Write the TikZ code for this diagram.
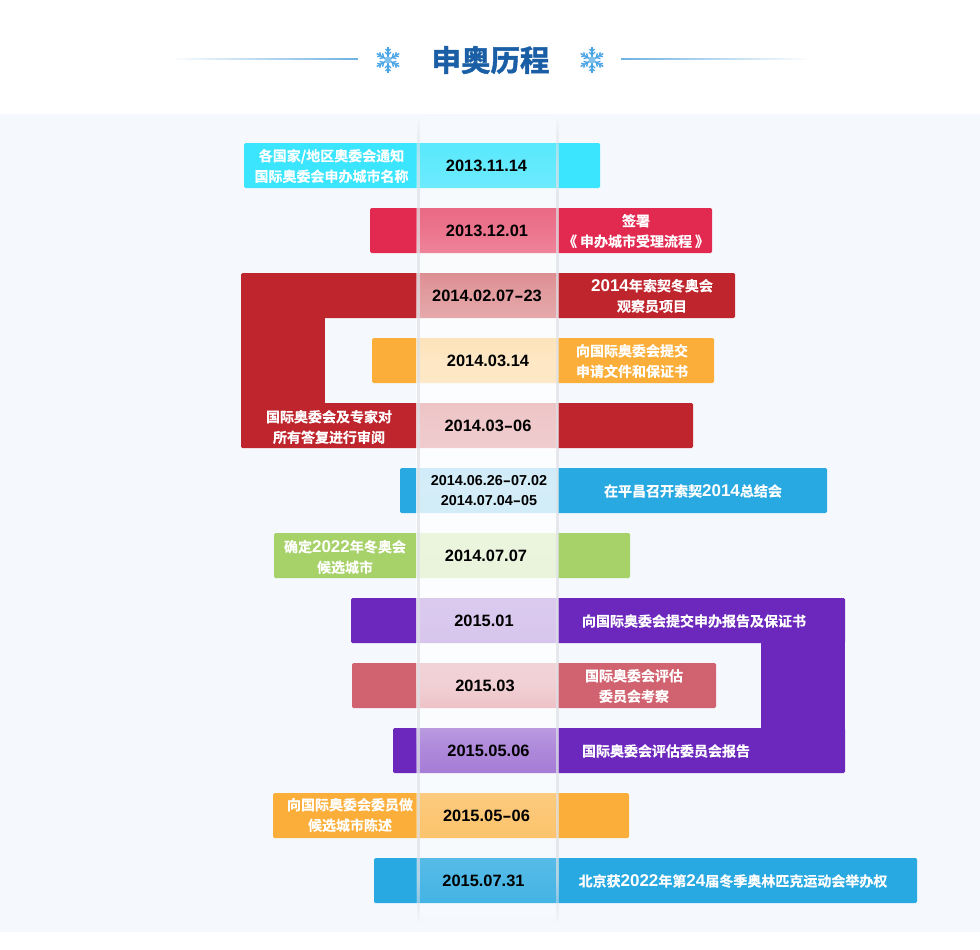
\documentclass[tikz,border=0pt]{standalone}
\usepackage{fontspec}
\usepackage{graphicx}
\usetikzlibrary{fadings,calc}
\setmainfont{Liberation Sans}
\newfontfamily\cjkbold[FakeBold=0.4]{Noto Sans CJK SC Bold}
\newfontfamily\titlefont[FakeBold=1.5]{Noto Sans CJK SC Bold}
\newfontfamily\datefont{Liberation Sans}
\definecolor{pagebg}{HTML}{F5F9FD}
\definecolor{titleblue}{HTML}{1A5EA6}
\definecolor{flakeblue}{HTML}{4AA5E5}
\definecolor{linblue}{HTML}{6EB2E2}
\definecolor{ccyan}{HTML}{3BE5FD}
\definecolor{crose}{HTML}{E22A50}
\definecolor{cred}{HTML}{BF252C}
\definecolor{corange}{HTML}{FBAF3A}
\definecolor{cblue}{HTML}{29A9E1}
\definecolor{cgreen}{HTML}{A6D269}
\definecolor{cpurple}{HTML}{6C27BD}
\definecolor{cpink}{HTML}{D0636F}
\definecolor{stripgrey}{HTML}{DDE0E5}
\tikzset{
  rowbar/.style={inner sep=0pt,outer sep=0pt,rounded corners=1.5pt,minimum height=45pt},
  datelabel/.style={inner sep=0pt,text=black,font=\datefont\bfseries\fontsize{16.4}{20}\selectfont,align=center},
  smalldate/.style={inner sep=0pt,text=black,font=\datefont\bfseries\fontsize{14.4}{20}\selectfont,align=center},
  evlabel/.style={inner sep=0pt,text=white,font=\cjkbold\fontsize{14}{20.5}\selectfont,align=center},
  titlelabel/.style={inner sep=0pt,text=titleblue,font=\titlefont\fontsize{29.5}{30}\selectfont}
}
\pgfdeclareverticalshading{bandshade}{100bp}{
  color(0bp)=(pgftransparent!92);
  color(25bp)=(pgftransparent!92);
  color(27.6bp)=(pgftransparent!83);
  color(31.65bp)=(pgftransparent!70);
  color(35.7bp)=(pgftransparent!55);
  color(39.75bp)=(pgftransparent!30);
  color(43.8bp)=(pgftransparent!25);
  color(52bp)=(pgftransparent!20);
  color(56bp)=(pgftransparent!25);
  color(60bp)=(pgftransparent!30);
  color(64bp)=(pgftransparent!45);
  color(68bp)=(pgftransparent!65);
  color(72.1bp)=(pgftransparent!80);
  color(75bp)=(pgftransparent!90);
  color(100bp)=(pgftransparent!90)}
\pgfdeclareverticalshading{stripshade}{100bp}{
  color(0bp)=(pgftransparent!100);
  color(25bp)=(pgftransparent!100);
  color(26bp)=(pgftransparent!60);
  color(28bp)=(pgftransparent!30);
  color(72bp)=(pgftransparent!30);
  color(74bp)=(pgftransparent!60);
  color(75bp)=(pgftransparent!100);
  color(100bp)=(pgftransparent!100)}
\pgfdeclarefading{bandfade}{\pgfuseshading{bandshade}}
\pgfdeclarefading{stripfade}{\pgfuseshading{stripshade}}
\tikzfading[name=linefadeL,left color=transparent!100,right color=transparent!0]
\tikzfading[name=linefadeR,left color=transparent!0,right color=transparent!100]
\newcommand{\hy}{\scalebox{1.7}[1]{-}}
\newcommand{\dg}[1]{{\datefont\bfseries\fontsize{17}{20.5}\selectfont #1}}
\newcommand{\mkbar}[5]{% name, x1, x2, ytop, colour
  \pgfmathsetmacro{\mkw}{#3-#2}
  \pgfmathsetmacro{\mkx}{(#2+#3)/2}
  \pgfmathsetmacro{\mky}{#4+22.5}
  \node[rowbar,fill=#5,minimum width=\mkw pt] (#1) at (\mkx,\mky) {};}
\newcommand{\mkflake}[2]{%
  \begin{scope}[shift={(#1,#2)},flakeblue,line width=1.4pt]
    \foreach \a in {30,90,...,330}{
      \begin{scope}[rotate=\a]
        \draw (0,0) -- (13,0);
        \draw (5,0) -- (8,3) (5,0) -- (8,-3);
        \draw (8.5,0) -- (11,2.5) (8.5,0) -- (11,-2.5);
      \end{scope}
    }
    \fill[flakeblue!70] (0,0) circle (3.5);
  \end{scope}}
\begin{document}
\begin{tikzpicture}[x=1pt,y=-1pt]
\useasboundingbox (0,0) rectangle (980,950);
\fill[white] (0,0) rectangle (980,950);
\fill[pagebg] (0,114) rectangle (980,932);
% title
\coordinate (la) at (170,59); \coordinate (lb) at (358,59);
\coordinate (ra) at (621,59); \coordinate (rb) at (810,59);
\fill[linblue,path fading=linefadeL] ($(la)+(0,-1)$) rectangle ($(lb)+(0,1)$);
\fill[linblue,path fading=linefadeR] ($(ra)+(0,-1)$) rectangle ($(rb)+(0,1)$);
\mkflake{388}{60}
\mkflake{592}{60}
\node[titlelabel] (title) at (490.5,60) {申奥历程};
% bars
\mkbar{r1}{244}{600}{143}{ccyan}
\mkbar{r2}{370}{712}{208}{crose}
\mkbar{r3}{241}{735}{273}{cred}
\mkbar{r4}{372}{714}{338}{corange}
\mkbar{r5}{241}{693}{403}{cred}
\mkbar{r6}{400}{827}{468}{cblue}
\mkbar{r7}{274}{630}{533}{cgreen}
\mkbar{r8}{351}{845}{598}{cpurple}
\mkbar{r9}{352}{716}{663}{cpink}
\mkbar{r10}{393}{845}{728}{cpurple}
\mkbar{r11}{273}{629}{793}{corange}
\mkbar{r12}{374}{917}{858}{cblue}
% joining blocks
\fill[cred] ($(r3.south west)+(0,-5)$) rectangle ($(r5.north west)+(84,5)$);
\fill[cpurple] ($(r8.south east)+(0,-5)$) rectangle ($(r10.north east)+(-84,5)$);
% translucent band
\fill[white,path fading=bandfade] (416,118) rectangle (558,922);
\fill[stripgrey,path fading=stripfade] (417,118) rectangle (420,922);
\fill[stripgrey,path fading=stripfade] (556,118) rectangle (559,922);
% dates
\node[datelabel] (d1) at (486.5,165.5) {2013.11.14};
\node[datelabel] (d2) at (487,230.5) {2013.12.01};
\node[datelabel] (d3) at (487,295.5) {2014.02.07\hy23};
\node[datelabel] (d4) at (488,360.5) {2014.03.14};
\node[datelabel] (d5) at (488,425.5) {2014.03\hy06};
\node[smalldate] (d6) at (489,490.5) {2014.06.26\hy07.02\\2014.07.04\hy05};
\node[datelabel] (d7) at (486,555.5) {2014.07.07};
\node[datelabel] (d8) at (484,620.5) {2015.01};
\node[datelabel] (d9) at (485,685.5) {2015.03};
\node[datelabel] (d10) at (488.5,750.5) {2015.05.06};
\node[datelabel] (d11) at (486.5,815.5) {2015.05\hy06};
\node[datelabel] (d12) at (483.5,880.5) {2015.07.31};
% events
\node[evlabel] (e1) at (331.5,166) {各国家/地区奥委会通知\\国际奥委会申办城市名称};
\node[evlabel] (e2) at (636,231) {签署\\《\hspace{3pt}申办城市受理流程\hspace{3pt}》};
\node[evlabel] (e3) at (652,296) {\dg{2014}年索契冬奥会\\观察员项目};
\node[evlabel] (e4) at (632,361) {向国际奥委会提交\\申请文件和保证书};
\node[evlabel] (e5) at (329,427) {国际奥委会及专家对\\所有答复进行审阅};
\node[evlabel] (e6) at (693,491) {在平昌召开索契\dg{2014}总结会};
\node[evlabel] (e7) at (345,557) {确定\dg{2022}年冬奥会\\候选城市};
\node[evlabel] (e8) at (694,621) {向国际奥委会提交申办报告及保证书};
\node[evlabel] (e9) at (634,686) {国际奥委会评估\\委员会考察};
\node[evlabel] (e10) at (666,751) {国际奥委会评估委员会报告};
\node[evlabel] (e11) at (350,815) {向国际奥委会委员做\\候选城市陈述};
\node[evlabel] (e12) at (733,881) {北京获\dg{2022}年第\dg{24}届冬季奥林匹克运动会举办权};
\end{tikzpicture}
\end{document}
